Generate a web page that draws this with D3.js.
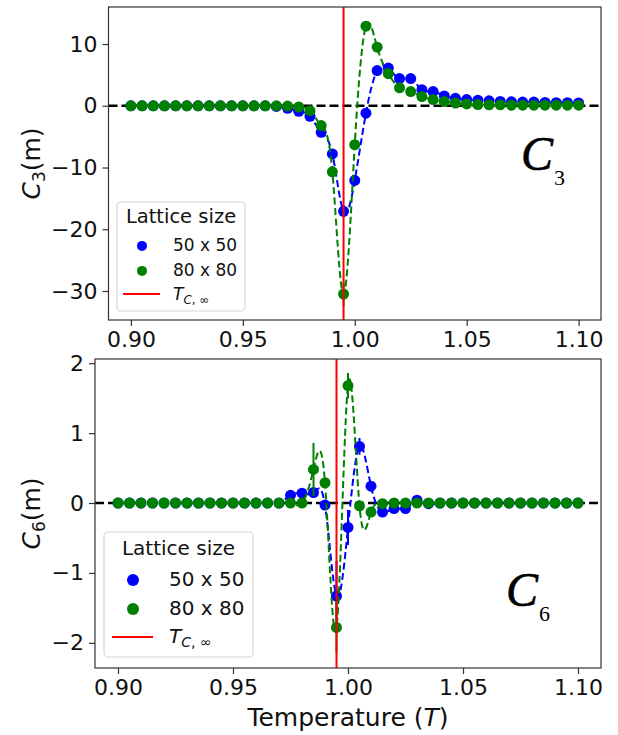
<!DOCTYPE html>
<html>
<head>
<meta charset="utf-8">
<script src="https://cdn.jsdelivr.net/npm/d3@7"></script>
<style>
body { margin: 0; background: #fff; }
svg { display: block; font-family: "DejaVu Sans", sans-serif; }
</style>
</head>
<body>
<svg id="chart" width="618" height="735"></svg>
<script>
// temperature grid (T)
const temps = [0.900, 0.905, 0.910, 0.915, 0.920, 0.925, 0.930, 0.935, 0.940, 0.945,
               0.950, 0.955, 0.960, 0.965, 0.970, 0.975, 0.980, 0.985, 0.990, 0.995,
               1.000, 1.005, 1.010, 1.015, 1.020, 1.025, 1.030, 1.035, 1.040, 1.045,
               1.050, 1.055, 1.060, 1.065, 1.070, 1.075, 1.080, 1.085, 1.090, 1.095, 1.100];
const xTicks = [0.90, 0.95, 1.00, 1.05, 1.10];
const c3Ticks = [10, 0, -10, -20, -30];
const c6Ticks = [2, 1, 0, -1, -2];
const tcInf = 0.995;
const seriesNames = ['50 x 50', '80 x 80'];

// C3(m)
const c3_50 = [0, 0, 0, 0, 0, 0, 0, 0, 0, 0,
               0, 0, 0, -0.1, -0.4, -0.9, -1.7, -4.3, -7.8, -17.1,
               -12.1, -1.2, 5.7, 6.1, 4.4, 4.4, 2.6, 2.3, 1.6, 1.2,
               1.0, 0.9, 0.8, 0.7, 0.65, 0.6, 0.6, 0.55, 0.5, 0.5, 0.45];
const c3_80 = [0, 0, 0, 0, 0, 0, 0, 0, 0, 0,
               0, 0, 0, 0, -0.05, -0.2, -0.8, -3.2, -10.7, -30.5,
               -6.3, 12.9, 9.5, 5.2, 2.9, 2.3, 1.5, 1.0, 0.7, 0.45,
               0.3, 0.2, 0.15, 0.15, 0.1, 0.1, 0.1, 0.1, 0.1, 0.1, 0.1];
const c3_50_err = [0, 0, 0, 0, 0, 0, 0, 0, 0, 0,
                   0, 0, 0, 0, 0, 0, 0, 0, 0, 1.0,
                   0, 0, 0, 0, 0, 0, 0, 0, 0, 0,
                   0, 0, 0, 0, 0, 0, 0, 0, 0, 0, 0];
const c3_80_err = [0, 0, 0, 0, 0, 0, 0, 0, 0, 0,
                   0, 0, 0, 0, 0, 0, 0, 0, 0, 1.9,
                   0, 0.8, 0, 0, 0, 0, 0, 0, 0, 0,
                   0, 0, 0, 0, 0, 0, 0, 0, 0, 0, 0];

// C6(m)
const c6_50 = [0, 0, 0, 0, 0, 0, 0, 0, 0, 0,
               0, 0, 0, 0, 0, 0.11, 0.14, 0.15, -0.03, -1.33,
               -0.35, 0.81, 0.24, -0.13, -0.08, -0.08, 0.04, -0.01, 0, 0,
               0, 0, 0, 0, 0, 0, 0, 0, 0, 0, 0];
const c6_80 = [0, 0, 0, 0, 0, 0, 0, 0, 0, 0,
               0, 0, 0, 0, 0, 0, 0, 0.48, 0.29, -1.78,
               1.68, -0.04, -0.13, -0.01, 0, 0, 0, 0, 0, 0,
               0, 0, 0, 0, 0, 0, 0, 0, 0, 0, 0];
const c6_50_err = [0, 0, 0, 0, 0, 0, 0, 0, 0, 0,
                   0, 0, 0, 0, 0, 0, 0, 0, 0, 0.5,
                   0.25, 0.12, 0, 0, 0, 0, 0, 0, 0, 0,
                   0, 0, 0, 0, 0, 0, 0, 0, 0, 0, 0];
const c6_80_err = [0, 0, 0, 0, 0, 0, 0, 0, 0, 0,
                   0, 0, 0, 0, 0, 0, 0, 0.38, 0, 0.36,
                   0.18, 0, 0, 0, 0, 0, 0, 0, 0, 0,
                   0, 0, 0, 0, 0, 0, 0, 0, 0, 0, 0];

const colors = ['#0000ff', '#008000'];
const svg = d3.select('#chart');

function drawPanel(p) {
    const x = d3.scaleLinear().domain([0.89, 1.11]).range([p.left, p.right]);
    const y = d3.scaleLinear().domain(p.ylim).range([p.bottom, p.top]);
    const g = svg.append('g');

    // horizontal zero line
    g.append('line')
        .attr('x1', p.left).attr('x2', p.right)
        .attr('y1', y(0)).attr('y2', y(0))
        .attr('stroke', '#000').attr('stroke-width', 2.5)
        .attr('stroke-dasharray', '9,4');

    p.series.forEach((s, k) => {
        const pts = temps.map((t, i) => ({t: t, v: s.vals[i], e: s.err[i]}));
        g.append('path')
            .datum(pts)
            .attr('fill', 'none')
            .attr('stroke', colors[k])
            .attr('stroke-width', 2)
            .attr('stroke-dasharray', '7,3.5')
            .attr('d', d3.line().x(d => x(d.t)).y(d => y(d.v)).curve(d3.curveNatural));
        g.selectAll(null)
            .data(pts.filter(d => d.e > 0))
            .enter()
            .append('line')
            .attr('x1', d => x(d.t)).attr('x2', d => x(d.t))
            .attr('y1', d => y(d.v - d.e)).attr('y2', d => y(d.v + d.e))
            .attr('stroke', colors[k]).attr('stroke-width', 2);
        g.selectAll(null)
            .data(pts)
            .enter()
            .append('circle')
            .attr('cx', d => x(d.t))
            .attr('cy', d => y(d.v))
            .attr('r', 5.5)
            .attr('fill', colors[k]);
    });

    // T_c line
    g.append('line')
        .attr('x1', x(tcInf)).attr('x2', x(tcInf))
        .attr('y1', p.top).attr('y2', p.bottom)
        .attr('stroke', '#ff0000').attr('stroke-width', 2);

    // axes
    const xAxis = g.append('g')
        .attr('transform', 'translate(0,' + p.bottom + ')')
        .call(d3.axisBottom(x).tickValues(xTicks).tickFormat(d3.format('.2f')).tickSize(6).tickPadding(5));
    const yAxis = g.append('g')
        .attr('transform', 'translate(' + p.left + ',0)')
        .call(d3.axisLeft(y).tickValues(p.yTicks).tickFormat(d3.format('d')).tickSize(6).tickPadding(5));
    [xAxis, yAxis].forEach(a => {
        a.select('.domain').remove();
        a.selectAll('.tick line').attr('stroke', '#333').attr('stroke-width', 1.2);
        a.selectAll('.tick text').attr('font-size', 22).attr('fill', '#111')
            .attr('font-family', '"DejaVu Sans", sans-serif');
    });

    g.append('rect')
        .attr('x', p.left).attr('y', p.top)
        .attr('width', p.right - p.left).attr('height', p.bottom - p.top)
        .attr('fill', 'none').attr('stroke', '#333').attr('stroke-width', 1.2);

    // y label
    const yl = g.append('text')
        .attr('transform', 'translate(40,' + (p.top + p.bottom) / 2 + ') rotate(-90)')
        .attr('text-anchor', 'middle')
        .attr('font-size', 25)
        .attr('fill', '#111');
    yl.append('tspan').attr('font-style', 'italic').text('C');
    yl.append('tspan').attr('font-size', 17).attr('dy', 5).text(p.sub);
    yl.append('tspan').attr('dy', -5).text('(m)');

    // big panel label
    svg.append('text')
        .attr('x', p.label[0]).attr('y', p.label[1])
        .attr('font-family', '"Liberation Serif", serif')
        .attr('font-style', 'italic')
        .attr('font-size', 48)
        .attr('fill', '#000')
        .attr('stroke', '#000').attr('stroke-width', 0.6)
        .text('C');
    svg.append('text')
        .attr('x', p.label[0] + 33).attr('y', p.label[1] + 15)
        .attr('font-family', '"Liberation Serif", serif')
        .attr('font-size', 22)
        .attr('fill', '#000')
        .text(p.sub);

    drawLegend(p.legend);
}

function drawLegend(L) {
    const g = svg.append('g');
    g.append('rect')
        .attr('x', L.x).attr('y', L.y).attr('width', L.w).attr('height', L.h)
        .attr('rx', 4)
        .attr('fill', '#fff').attr('fill-opacity', 0.8)
        .attr('stroke', '#d6d6d6').attr('stroke-width', 1.2);
    g.append('text')
        .attr('x', L.x + L.w / 2).attr('y', L.titleY)
        .attr('text-anchor', 'middle')
        .attr('font-size', L.titleSize)
        .attr('fill', '#111')
        .text('Lattice size');
    seriesNames.forEach((name, k) => {
        g.append('circle')
            .attr('cx', L.markX).attr('cy', L.rows[k] - L.size * 0.3)
            .attr('r', L.r)
            .attr('fill', colors[k]);
        g.append('text')
            .attr('x', L.textX).attr('y', L.rows[k])
            .attr('font-size', L.size)
            .attr('fill', '#111')
            .text(name);
    });
    g.append('line')
        .attr('x1', L.lineX[0]).attr('x2', L.lineX[1])
        .attr('y1', L.rows[2] - 6).attr('y2', L.rows[2] - 6)
        .attr('stroke', '#ff0000').attr('stroke-width', 2);
    const t = g.append('text')
        .attr('x', L.textX).attr('y', L.rows[2])
        .attr('font-size', L.size)
        .attr('fill', '#111');
    t.append('tspan').attr('font-style', 'italic').text('T');
    t.append('tspan').attr('font-size', L.size * 0.7).attr('dy', 4).attr('font-style', 'italic').text('C');
    t.append('tspan').attr('font-size', L.size * 0.7).text(', \u221e');
}

drawPanel({
    left: 108.5, right: 601, top: 7, bottom: 320,
    ylim: [-34.7, 16.0], yTicks: c3Ticks, sub: '3',
    series: [{vals: c3_50, err: c3_50_err}, {vals: c3_80, err: c3_80_err}],
    label: [521, 170],
    legend: {x: 117, y: 202, w: 128, h: 109, titleY: 223, titleSize: 19.5, size: 17,
             markX: 142, textX: 173, r: 5, rows: [251, 276, 300], lineX: [123, 160]}
});

drawPanel({
    left: 95, right: 601, top: 359, bottom: 668,
    ylim: [-2.36, 2.06], yTicks: c6Ticks, sub: '6',
    series: [{vals: c6_50, err: c6_50_err}, {vals: c6_80, err: c6_80_err}],
    label: [506, 606],
    legend: {x: 104, y: 532, w: 149, h: 125, titleY: 555, titleSize: 20, size: 20,
             markX: 133, textX: 169, r: 6, rows: [586, 615, 643], lineX: [112, 153]}
});

// x label
const xl = svg.append('text')
    .attr('x', 348).attr('y', 726)
    .attr('text-anchor', 'middle')
    .attr('font-size', 25)
    .attr('fill', '#111');
xl.append('tspan').text('Temperature (');
xl.append('tspan').attr('font-style', 'italic').text('T');
xl.append('tspan').text(')');
</script>
</body>
</html>
